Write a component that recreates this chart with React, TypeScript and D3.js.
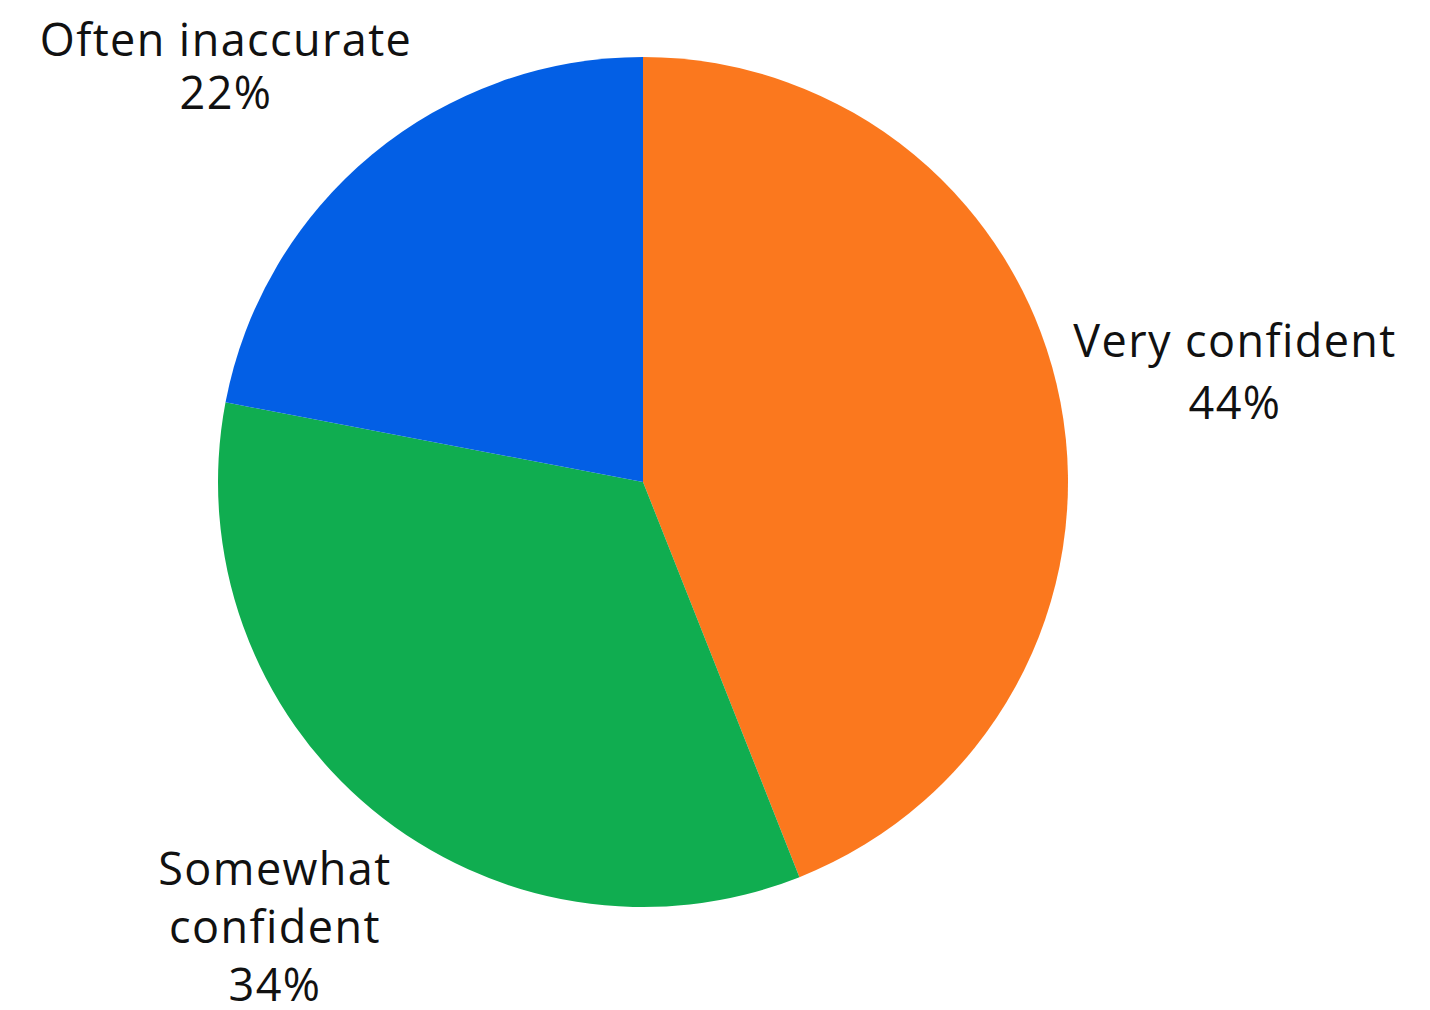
import React from "react";
import * as d3 from "d3";

const categories = ["Very confident", "Somewhat confident", "Often inaccurate"];
const values = [44, 34, 22];
const colors = ["#FB781E", "#10AD50", "#035FE5"];
const labelLines = [["Very confident", "44%"], ["Somewhat", "confident", "34%"], ["Often inaccurate", "22%"]];

const W = 1430, H = 1010;
const cx = 643, cy = 482, R = 425;

export default function App() {
  const pie = d3.pie<number>().sort(null).value((d) => d)(values);
  const arc = d3.arc<d3.PieArcDatum<number>>().innerRadius(0).outerRadius(R);
  // label anchors (first-line baseline) and line heights
  const labelPos = [
    { x: 1235, y: 357, lh: 62 },
    { x: 275, y: 885, lh: 58 },
    { x: 226, y: 56, lh: 53 },
  ];
  return (
    <svg width={W} height={H} style={{ position: "absolute", left: 0, top: 0, background: "#fff" }}>
      <g transform={`translate(${cx},${cy})`}>
        {pie.map((p, i) => (
          <path key={categories[i]} d={arc(p) || ""} fill={colors[i]} />
        ))}
      </g>
      {labelLines.map((lines, i) => (
        <text
          key={categories[i]}
          x={labelPos[i].x}
          y={labelPos[i].y}
          textAnchor="middle"
          fontFamily="'Open Sans', sans-serif"
          fontSize={45}
          letterSpacing={1.4}
          fill="#111"
        >
          {lines.map((l, j) => (
            <tspan key={j} x={labelPos[i].x} y={labelPos[i].y + j * labelPos[i].lh}>
              {l}
            </tspan>
          ))}
        </text>
      ))}
    </svg>
  );
}
